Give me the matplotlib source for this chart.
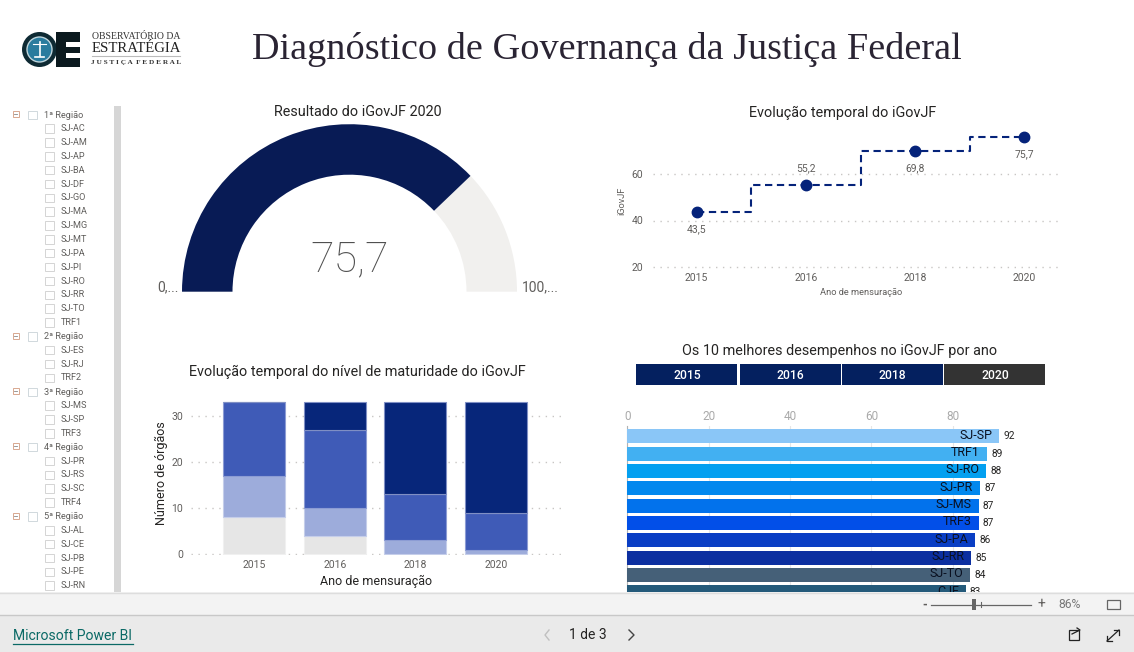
import numpy as np
import matplotlib
matplotlib.use("Agg")
import matplotlib.pyplot as plt
from matplotlib.patches import Wedge, Rectangle, Circle

# ---------- data ----------
gauge_value = 75.7
gauge_max = 100

line_years = ["2015", "2016", "2018", "2020"]
line_values = [43.5, 55.2, 69.8, 75.7]
line_labels = ["43,5", "55,2", "69,8", "75,7"]

stack_years = ["2015", "2016", "2018", "2020"]
level_grey = [8, 4, 0, 0]
level_light = [9, 6, 3, 1]
level_mid = [16, 17, 10, 8]
level_dark = [0, 6, 20, 24]

bar_names = ["SJ-SP", "TRF1", "SJ-RO", "SJ-PR", "SJ-MS", "TRF3", "SJ-PA", "SJ-RR", "SJ-TO", "CJF"]
bar_values = [91.4, 88.4, 88.2, 86.7, 86.4, 86.4, 85.6, 84.6, 84.3, 83.2]
bar_labels = ["92", "89", "88", "87", "87", "87", "86", "85", "84", "83"]
bar_colors = ["#8AC6F7", "#42B0F2", "#03A0F0", "#0288EE", "#0272EC", "#024FE8",
              "#0A3EC4", "#0C2FA0", "#456078", "#245A7A"]

slicer_groups = [
    ("1ª Região", ["SJ-AC", "SJ-AM", "SJ-AP", "SJ-BA", "SJ-DF", "SJ-GO", "SJ-MA", "SJ-MG",
                   "SJ-MT", "SJ-PA", "SJ-PI", "SJ-RO", "SJ-RR", "SJ-TO", "TRF1"]),
    ("2ª Região", ["SJ-ES", "SJ-RJ", "TRF2"]),
    ("3ª Região", ["SJ-MS", "SJ-SP", "TRF3"]),
    ("4ª Região", ["SJ-PR", "SJ-RS", "SJ-SC", "TRF4"]),
    ("5ª Região", ["SJ-AL", "SJ-CE", "SJ-PB", "SJ-PE", "SJ-RN"]),
]
tab_years = ["2015", "2016", "2018", "2020"]

# ---------- setup ----------
W, H = 1134, 652
plt.rcParams["font.family"] = ["Roboto", "DejaVu Sans"]
fig = plt.figure(figsize=(W / 100, H / 100), dpi=100, facecolor="white")


def px_axes(x0, y0, x1, y1, **kw):
    return fig.add_axes([x0 / W, 1 - y1 / H, (x1 - x0) / W, (y1 - y0) / H], **kw)


def clean(ax):
    for s in ax.spines.values():
        s.set_visible(False)
    ax.patch.set_alpha(0)


DARK = "#252423"
GREY = "#605E5C"

# ---------- page axes (pixel coordinates) ----------
pg = px_axes(0, 0, W, H, zorder=0)
pg.set_xlim(0, W)
pg.set_ylim(H, 0)
pg.axis("off")

pg.text(607, 49.5, "Diagnóstico de Governança da Justiça Federal", ha="center", va="center",
        fontsize=27.5, color="#2A2433", family=["Liberation Serif"])

# logo
pg.add_patch(Circle((39.5, 49.5), 17.5, fc="#0E2A33", ec="none"))
pg.add_patch(Circle((39.5, 49.5), 12.5, fc="#2A7C9E", ec="#BFD5DC", lw=1))
pg.plot([33, 46], [44, 44], color="white", lw=0.8)
pg.plot([39.5, 39.5], [42, 56], color="white", lw=1.2)
pg.plot([35, 44], [56.5, 56.5], color="white", lw=1.2)
pg.add_patch(Rectangle((56, 32), 24, 35, fc="#0B1A1F", ec="none"))
pg.add_patch(Rectangle((66, 42), 14, 4.5, fc="white", ec="none"))
pg.add_patch(Rectangle((66, 53), 14, 4.5, fc="white", ec="none"))
pg.text(136, 36.5, "OBSERVATÓRIO DA", ha="center", va="center", fontsize=7,
        color="#333333", family=["Liberation Serif"])
pg.text(136, 48.5, "ESTRATÉGIA", ha="center", va="center", fontsize=10.6,
        color="#222222", family=["Liberation Serif"])
pg.plot([92, 180], [56, 56], color="#BBBBBB", lw=0.8)
pg.text(136, 62.5, "J U S T I Ç A  F E D E R A L", ha="center", va="center", fontsize=5.2,
        color="#333333", family=["Liberation Serif"], fontweight="bold")

# slicer
y = 114.5
pitch = 13.85
for group, items in slicer_groups:
    pg.add_patch(Rectangle((12.5, y - 3.5), 6, 6, fc="white", ec="#D8A890", lw=0.7))
    pg.plot([14, 17], [y - 0.5, y - 0.5], color="#888888", lw=0.6)
    pg.add_patch(Rectangle((27.5, y - 4), 9, 8.5, fc="white", ec="#D0D8DC", lw=0.7))
    pg.text(44, y + 0.5, group, ha="left", va="center", fontsize=6.6, color=GREY)
    y += pitch
    for it in items:
        if y > 592:
            break
        pg.add_patch(Rectangle((45, y - 4), 8.5, 8.5, fc="white", ec="#D4D4D4", lw=0.7))
        pg.text(61, y + 0.3, it, ha="left", va="center", fontsize=6.6, color=GREY)
        y += pitch
pg.add_patch(Rectangle((114, 106), 7, 486, fc="#D6D6D6", ec="none"))

# chart titles
title_kw = dict(ha="center", va="center", fontsize=10.4, color=DARK)
pg.text(357.5, 112, "Resultado do iGovJF 2020", **title_kw)
pg.text(843, 113, "Evolução temporal do iGovJF", **title_kw)
pg.text(357, 372, "Evolução temporal do nível de maturidade do iGovJF", **title_kw)
pg.text(840, 350.5, "Os 10 melhores desempenhos no iGovJF por ano", **title_kw)

# year tabs
tab_x = [636.3, 739.5, 841.7, 944]
for tx, yr in zip(tab_x, tab_years):
    fc = "#333333" if yr == "2020" else "#04205F"
    pg.add_patch(Rectangle((tx, 364), 101, 21, fc=fc, ec="none"))
    pg.text(tx + 51, 375.5, yr, ha="center", va="center", fontsize=8.7, color="white",
            fontweight="medium")

# ---------- gauge ----------
cx, cy, R = 349.5, 291.7, 167.5
ga = px_axes(cx - R - 2, cy - R - 2, cx + R + 2, cy, zorder=1)
ga.set_xlim(-R - 2, R + 2)
ga.set_ylim(0, R + 2)
ga.axis("off")
width = 50.5
split = 180 * (1 - gauge_value / gauge_max)
ga.add_patch(Wedge((0, 0), R, 0, split, width=width, fc="#F1F0EE", ec="none"))
ga.add_patch(Wedge((0, 0), R, split, 180, width=width, fc="#081B55", ec="none"))
pg.text(350, 259.5, f"{gauge_value:.1f}".replace(".", ","), ha="center", va="center",
        fontsize=31, color="#505050", fontweight="light")
pg.text(157, 287, "0,...", ha="left", va="center", fontsize=10, color=GREY)
pg.text(522, 287, "100,...", ha="left", va="center", fontsize=10, color=GREY)

# ---------- line chart ----------
lx = px_axes(653, 110, 1062, 270, zorder=1)
clean(lx)
lx.set_xlim((653 - 696.7) / 109.2, (1062 - 696.7) / 109.2)
ppu = (267.3 - 173.7) / 40
lx.set_ylim(20 - (270 - 267.3) / ppu, 20 + (267.3 - 110) / ppu)
xs = np.arange(len(line_years))
lx.plot(xs, line_values, drawstyle="steps-mid", color="#05237A", lw=1.5, ls=(0, (3.5, 2.2)), zorder=3)
lx.plot(xs, line_values, ls="none", marker="o", ms=7.5, color="#05237A", zorder=4, clip_on=False)
lx.set_xticks(xs, line_years)
lx.set_yticks([20, 40, 60])
lx.grid(axis="y", color="#C8C6C4", lw=1, ls=(0, (1, 4)))
lx.set_axisbelow(True)
lx.tick_params(length=0, labelsize=7.5, labelcolor=GREY)
lx.tick_params(axis="x", pad=2)
lx.tick_params(axis="y", pad=7)
for x, v, lab, o in zip(xs, line_values, line_labels, [-12.3, 12.3, -12.3, -12.3]):
    lx.annotate(lab, (x, v), xytext=(0, o), textcoords="offset points", ha="center",
                va="center", fontsize=7.5, color=GREY)
pg.text(861, 292, "Ano de mensuração", ha="center", va="center", fontsize=6.7, color=GREY)
pg.text(622, 201, "iGovJF", ha="center", va="center", fontsize=6.7, color=GREY, rotation=90)

# ---------- stacked bars ----------
sx = px_axes(191, 400, 561, 555, zorder=1)
clean(sx)
sx.set_xlim((191 - 254.2) / 80.5, (561 - 254.2) / 80.5)
sp = (554.3 - 415.7) / 30
sx.set_ylim(-(555 - 554.3) / sp, (554.3 - 400) / sp)
pos = np.arange(len(stack_years))
bottom = np.zeros(len(pos))
for vals, col, edge in [(level_grey, "#E6E6E6", "#F0F0F0"), (level_light, "#9DACDB", "#C5CEEA"),
                        (level_mid, "#3F5BB7", "#8C9CD4"), (level_dark, "#07267A", "#7F8FC4")]:
    vals = np.array(vals, float)
    sx.bar(pos, vals, bottom=bottom, width=0.77, color=col, edgecolor=edge, lw=0.8, zorder=3)
    bottom += vals
sx.set_xticks(pos, stack_years)
sx.set_yticks([0, 10, 20, 30])
sx.grid(axis="y", color="#C8C6C4", lw=1, ls=(0, (1, 4)))
sx.set_axisbelow(True)
sx.tick_params(length=0, labelsize=7.5, labelcolor=GREY)
sx.tick_params(axis="x", pad=3.4)
sx.tick_params(axis="y", pad=5.5)
pg.text(376, 581, "Ano de mensuração", ha="center", va="center", fontsize=9, color=DARK)
pg.text(161, 473, "Número de órgãos", ha="center", va="center", fontsize=9, color=DARK, rotation=90)

# ---------- horizontal bars ----------
bx = px_axes(627.3, 426, 1060, 592, zorder=1)
clean(bx)
ux = (952.7 - 627.3) / 80
bx.set_xlim(0, (1060 - 627.3) / ux)
rows = np.arange(len(bar_names))
bx.set_ylim((592 - 436.3) / 17.33, (426 - 436.3) / 17.33)
bx.barh(rows, bar_values, height=0.81, color=bar_colors, lw=0, zorder=3)
bx.set_xticks([0, 20, 40, 60, 80])
bx.set_yticks([])
bx.xaxis.tick_top()
bx.grid(axis="x", color="#E6E6E6", lw=0.8)
bx.set_axisbelow(True)
bx.tick_params(length=0, labelsize=8.5, labelcolor="#AAAAAA", pad=2)
bx.spines["left"].set_visible(True)
bx.spines["left"].set_color("#B3B3B3")
for r, v, n, lab in zip(rows, bar_values, bar_names, bar_labels):
    bx.annotate(n, (v, r), xytext=(-5, 0.8), textcoords="offset points", ha="right", va="center",
                fontsize=9, color="#0A1020", zorder=5, annotation_clip=True)
    bx.annotate(lab, (v, r), xytext=(3, 0), textcoords="offset points", ha="left", va="center",
                fontsize=7.3, color=DARK, zorder=5, annotation_clip=True)

# ---------- bottom chrome ----------
top = px_axes(0, 0, W, H, zorder=5)
top.set_xlim(0, W)
top.set_ylim(H, 0)
top.axis("off")
top.add_patch(Rectangle((0, 592), W, 23, fc="#F3F3F3", ec="none"))
top.add_patch(Rectangle((0, 615), W, 37, fc="#EAEAEA", ec="none"))
top.plot([0, W], [592.5, 592.5], color="#DDDDDD", lw=1)
top.plot([0, W], [615, 615], color="#C8C8C8", lw=1)
top.text(13, 636, "Microsoft Power BI", ha="left", va="center", fontsize=10.1, color="#0B6A66")
top.plot([13, 133], [643.5, 643.5], color="#0B6A66", lw=0.9)
top.text(587.5, 635, "1 de 3", ha="center", va="center", fontsize=10, color="#252423")
top.plot([549, 545, 549], [630, 635, 640], color="#C0C0C0", lw=1)
top.plot([629, 634, 629], [630, 635, 640], color="#444444", lw=1)
top.text(925, 605, "-", ha="center", va="center", fontsize=9, color=GREY, fontweight="bold")
top.plot([931, 1031], [604.5, 604.5], color="#666666", lw=0.9)
top.add_patch(Rectangle((972, 599), 4, 11, fc="#666666", ec="none"))
top.plot([981, 981], [602, 607], color="#666666", lw=0.8)
top.text(1041, 604.5, "+", ha="center", va="center", fontsize=10, color=GREY)
top.text(1070, 605, "86%", ha="center", va="center", fontsize=8.7, color="#777777")
top.add_patch(Rectangle((1106.5, 600), 13, 9, fc="none", ec="#666666", lw=0.9))
top.add_patch(Rectangle((1069, 630), 10, 10, fc="none", ec="#222222", lw=0.9))
top.plot([1072, 1080, 1077], [634, 630, 628], color="#222222", lw=0.9)
top.plot([1107, 1119], [641, 630], color="#222222", lw=0.9)
top.plot([1107, 1107, 1112], [636, 641, 641], color="#222222", lw=0.9)
top.plot([1114, 1119, 1119], [630, 630, 635], color="#222222", lw=0.9)

fig.savefig("out.png", dpi=100)
